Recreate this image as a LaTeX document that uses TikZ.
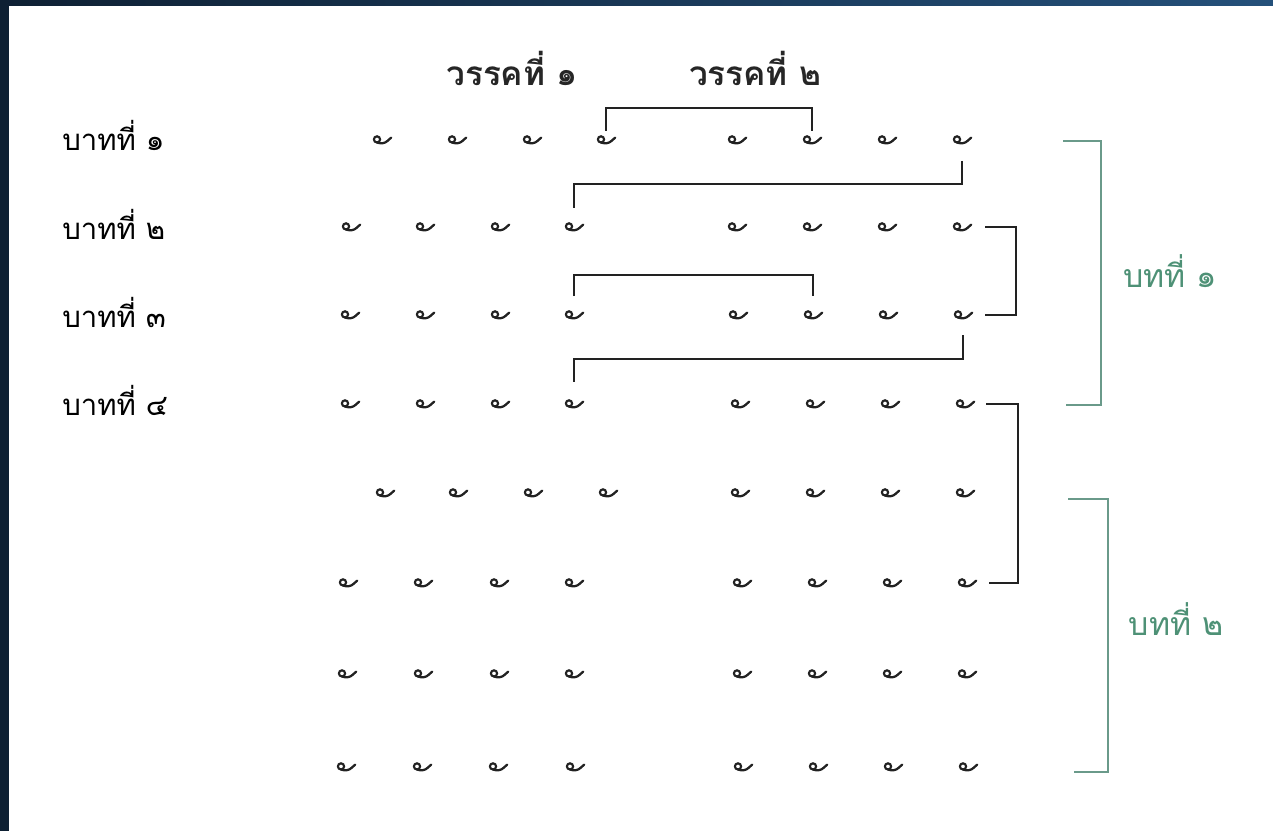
\documentclass[tikz,border=0pt]{standalone}
\usepackage{fontspec}
\newfontfamily\thai[Script=Thai]{Loma}
\usetikzlibrary{calc}
\definecolor{ink}{HTML}{222222}
\definecolor{grn}{HTML}{6A9A8A}
\definecolor{grntext}{HTML}{4E9176}
\definecolor{navyA}{HTML}{0E2033}
\definecolor{navyB}{HTML}{24507A}
\tikzset{
  sylmark/.pic={
    \draw[ink,line width=1.6pt] (-5,-0.6) circle (3.1);
    \draw[ink,line width=1.7pt,line cap=round]
      (-5,2.5) .. controls (-1,3.9) and (3,3.4) .. (5.5,0.9)
      .. controls (6.6,-0.2) and (7.8,-1.6) .. (9.2,-2.4);},
  bk/.style={draw=ink,line width=1.5pt},
  gr/.style={draw=grn,line width=1.2pt},
  rowlab/.style={font=\thai\fontsize{22}{26}\selectfont,text=black,inner sep=0pt,anchor=base west},
  title/.style={font=\thai\bfseries\fontsize{25}{29}\selectfont,text=black!85,inner sep=0pt,anchor=base},
  stanza/.style={font=\thai\fontsize{24}{28}\selectfont,text=grntext,inner sep=0pt,anchor=base}
}
\begin{document}
\begin{tikzpicture}[x=0.75pt,y=-0.75pt]
\fill[white] (0,0) rectangle (1273,831);
\useasboundingbox (0,0) rectangle (1273,831);
\shade[left color=navyA,right color=navyB] (0,0) rectangle (1273,6);
\fill[navyA] (0,0) rectangle (9,831);

% titles
\node[title] (t1) at (512,86) {วรรคที่ ๑};
\node[title] (t2) at (755,86) {วรรคที่ ๒};

% row labels
\node[rowlab] (l1) at (62,151) {บาทที่ ๑};
\node[rowlab] (l2) at (62,239) {บาทที่ ๒};
\node[rowlab] (l3) at (62,327) {บาทที่ ๓};
\node[rowlab] (l4) at (62,415) {บาทที่ ๔};

% syllable marks
\foreach \rw/\yy/\xa/\xb/\xc/\xd/\dx in
  {1/140/382/457/532/606/0, 2/227/351/425/500/574/0, 3/315/350/425/500/574/1,
   4/404/350/425/500/574/3, 5/493/385/458/533/608/3, 6/583/348/423/499/574/5,
   7/674/347/423/499/574/5, 8/767/346/422/498/575/6}
{
  \foreach \cl/\xx in {1/\xa,2/\xb,3/\xc,4/\xd,5/737+\dx,6/812+\dx,7/887+\dx,8/962+\dx}
  {
    \node[coordinate] (r\rw c\cl) at (\xx,\yy) {};
    \pic at (r\rw c\cl) {sylmark};
  }
}

% rhyme connectors
\draw[bk] ($(r1c4)+(0,-9)$) |- ($(r1c6)+(0,-32)$) -- ($(r1c6)+(0,-9)$);
\draw[bk] ($(r1c8)+(0,21)$) |- ($(r2c4)+(0,-43)$) -- ($(r2c4)+(0,-19)$);
\draw[bk] ($(r2c8)+(23,0)$) -- ($(r2c8)+(54,0)$) |- ($(r3c8)+(22,0)$);
\draw[bk] ($(r3c4)+(0,-19)$) |- ($(r3c6)+(0,-40)$) -- ($(r3c6)+(0,-19)$);
\draw[bk] ($(r3c8)+(0,20)$) |- ($(r4c4)+(0,-45)$) -- ($(r4c4)+(0,-22)$);
\draw[bk] ($(r4c8)+(21,0)$) -- ($(r4c8)+(53,0)$) |- ($(r6c8)+(22,0)$);

% stanza brackets
\coordinate (s1t) at (1063,141);
\coordinate (s1b) at (1066,405);
\draw[gr] (s1t) -| ($(s1b)+(35,0)$) -- (s1b);
\coordinate (s2t) at (1068,499);
\coordinate (s2b) at (1074,772);
\draw[gr] (s2t) -| ($(s2b)+(34,0)$) -- (s2b);
\node[stanza] (st1) at (1170,287) {บทที่ ๑};
\node[stanza] (st2) at (1176,635) {บทที่ ๒};
\end{tikzpicture}
\end{document}
